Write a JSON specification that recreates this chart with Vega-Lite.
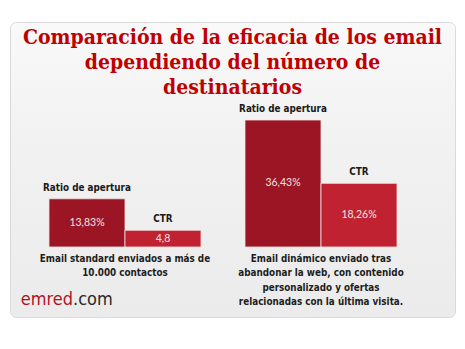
{
  "$schema": "https://vega.github.io/schema/vega-lite/v6.json",
  "autosize": "none",
  "width": 445,
  "height": 295,
  "padding": {"left": 10, "top": 22, "right": 10, "bottom": 32},
  "background": "#ffffff",
  "title": {
    "text": ["Comparación de la eficacia de los email", "dependiendo del número de", "destinatarios"],
    "font": "'DejaVu Serif Condensed', 'DejaVu Serif', serif",
    "fontSize": 21,
    "fontWeight": "bold",
    "color": "#c00000",
    "lineHeight": 25,
    "anchor": "middle",
    "frame": "group",
    "offset": -76
  },
  "config": {
    "view": {
      "fill": {"gradient": "linear", "x1": 0, "y1": 0, "x2": 0, "y2": 1, "stops": [{"offset": 0, "color": "#f9f9f9"}, {"offset": 0.3, "color": "#f3f3f3"}, {"offset": 1, "color": "#ebebeb"}]},
      "stroke": "#dadada",
      "cornerRadius": 6
    }
  },
  "data": {
    "values": [
      {"grupo": "Email standard enviados a más de|10.000 contactos", "metrica": "Ratio de apertura", "valor": 13.83, "etiqueta": "13,83%"},
      {"grupo": "Email standard enviados a más de|10.000 contactos", "metrica": "CTR", "valor": 4.8, "etiqueta": "4,8"},
      {"grupo": "Email dinámico enviado tras|abandonar la web,  con contenido|personalizado y ofertas|relacionadas con la última visita.", "metrica": "Ratio de apertura", "valor": 36.43, "etiqueta": "36,43%"},
      {"grupo": "Email dinámico enviado tras|abandonar la web,  con contenido|personalizado y ofertas|relacionadas con la última visita.", "metrica": "CTR", "valor": 18.26, "etiqueta": "18,26%"}
    ]
  },
  "encoding": {
    "x": {
      "field": "grupo", "type": "nominal", "sort": null,
      "scale": {"paddingInner": 0.2245, "paddingOuter": 0.2474, "align": 0.402},
      "axis": {
        "title": null, "domain": false, "ticks": false, "labelAngle": 0,
        "offset": -70, "labelPadding": 6, "labelLimit": 0,
        "labelFont": "'DejaVu Sans Condensed', Roboto, sans-serif", "labelFontSize": 9.8, "labelFontWeight": "bold",
        "labelColor": "#1e1e1e", "labelLineHeight": 14.5,
        "labelExpr": "split(datum.label, '|')"
      }
    },
    "xOffset": {"field": "metrica", "type": "nominal", "sort": ["Ratio de apertura", "CTR"], "scale": {"paddingInner": 0, "paddingOuter": 0}},
    "y": {"field": "valor", "type": "quantitative", "scale": {"domain": [-20.08, 64.54], "nice": false, "zero": false}, "axis": null}
  },
  "layer": [
    {
      "mark": {"type": "bar", "stroke": "#f2e4e5", "strokeWidth": 0.8},
      "encoding": {
        "color": {"field": "metrica", "type": "nominal", "scale": {"domain": ["Ratio de apertura", "CTR"], "range": ["#9b1524", "#c02232"]}, "legend": null}
      }
    },
    {
      "mark": {"type": "text", "baseline": "bottom", "dy": -6, "font": "'DejaVu Sans Condensed', Roboto, sans-serif", "fontSize": 9.8, "fontWeight": "bold", "color": "#1a1a1a"},
      "encoding": {"text": {"field": "metrica"}}
    },
    {
      "transform": [{"calculate": "datum.valor / 2", "as": "medio"}],
      "mark": {"type": "text", "baseline": "middle", "font": "Lato", "fontSize": 10.5, "color": "#f6e2e2"},
      "encoding": {
        "y": {"field": "medio", "type": "quantitative"},
        "text": {"field": "etiqueta"}
      }
    },
    {
      "data": {"values": [{"grupo": "Email standard enviados a más de|10.000 contactos", "parte": "emred", "pos": -15.2}]},
      "mark": {"type": "text", "align": "right", "baseline": "middle", "dx": 24, "font": "'DejaVu Sans Condensed', Roboto, sans-serif", "fontSize": 18, "color": "#b5121f"},
      "encoding": {
        "x": {"field": "grupo", "type": "nominal", "bandPosition": 0},
        "xOffset": null,
        "y": {"field": "pos", "type": "quantitative"},
        "text": {"field": "parte"}
      }
    },
    {
      "data": {"values": [{"grupo": "Email standard enviados a más de|10.000 contactos", "parte": ".com", "pos": -15.2}]},
      "mark": {"type": "text", "align": "left", "baseline": "middle", "dx": 24, "font": "'DejaVu Sans Condensed', Roboto, sans-serif", "fontSize": 18, "color": "#2a2a2a"},
      "encoding": {
        "x": {"field": "grupo", "type": "nominal", "bandPosition": 0},
        "xOffset": null,
        "y": {"field": "pos", "type": "quantitative"},
        "text": {"field": "parte"}
      }
    }
  ]
}
